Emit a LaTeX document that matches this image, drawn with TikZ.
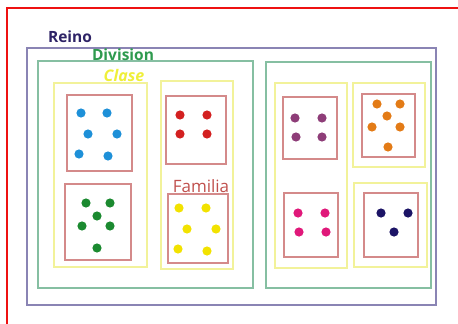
\documentclass[tikz,border=0pt]{standalone}
\usepackage{fontspec}
\setsansfont{Open Sans}
\usetikzlibrary{positioning}
\definecolor{cframe}{HTML}{EE1111}
\definecolor{creino}{HTML}{8A84B4}
\definecolor{creinotxt}{HTML}{2E2366}
\definecolor{cdiv}{HTML}{86BFA2}
\definecolor{cdivtxt}{HTML}{2E9A4E}
\definecolor{cclase}{HTML}{F2F29A}
\definecolor{cclasetxt}{HTML}{EFEF3A}
\definecolor{cfam}{HTML}{D48A8A}
\definecolor{cfamtxt}{HTML}{C0504D}
\definecolor{cblue}{HTML}{1E90D8}
\definecolor{cred}{HTML}{D32020}
\definecolor{cgreen}{HTML}{1B8A30}
\definecolor{cyellow}{HTML}{F2E200}
\definecolor{cpurple}{HTML}{8E3D78}
\definecolor{corange}{HTML}{E37B16}
\definecolor{cpink}{HTML}{E0187A}
\definecolor{cnavy}{HTML}{1C1466}
\tikzset{
  every picture/.style={font=\sffamily, line width=1.3pt},
  reinobox/.style={draw=creino},
  divbox/.style={draw=cdiv},
  clasebox/.style={draw=cclase},
  fambox/.style={draw=cfam},
  rank/.style={font=\sffamily\bfseries\fontsize{15.5}{18}\selectfont, text=#1, inner sep=0pt},
  dot/.style={fill=#1},
}

\begin{document}
\begin{tikzpicture}[x=1pt, y=-1pt]
  \useasboundingbox (0,0) rectangle (458,324);
  \draw[cframe, line width=2pt] (7,324) -- (7,8) -- (458,8);
  % reino and divisiones
  \draw[reinobox] (27,48) rectangle (436,305);
  \draw[divbox] (38,61) rectangle (253,288);
  \draw[divbox] (266,62) rectangle (431,288);
  % clases
  \draw[clasebox] (54,83) rectangle (147,267);
  \draw[clasebox] (161,81) rectangle (233,269);
  \draw[clasebox] (275,83) rectangle (347,268);
  \draw[clasebox] (353,83) rectangle (425,167);
  \draw[clasebox] (354,183) rectangle (427,267);
  % familias
  \draw[fambox] (67,95) rectangle (132,171);
  \draw[fambox] (65,184) rectangle (131,260);
  \draw[fambox] (166,96) rectangle (226,164);
  \draw[fambox] (168,194) rectangle (228,263);
  \draw[fambox] (283,97) rectangle (337,159);
  \draw[fambox] (362,94) rectangle (415,157);
  \draw[fambox] (284,193) rectangle (338,257);
  \draw[fambox] (364,193) rectangle (418,257);
  % especies
  \foreach \p in {(81,113),(107,113),(88,134),(117,134),(79,154),(108,156)}
    \fill[dot=cblue] \p circle (4.6);
  \foreach \p in {(86,203),(110,203),(97,216),(82,226),(110,226),(97,248)}
    \fill[dot=cgreen] \p circle (4.6);
  \foreach \p in {(180,115),(207,115),(180,134),(207,134)}
    \fill[dot=cred] \p circle (4.6);
  \foreach \p in {(179,208),(206,208),(187,229),(216,229),(178,249),(207,251)}
    \fill[dot=cyellow] \p circle (4.6);
  \foreach \p in {(295,118),(322,118),(296,137),(322,137)}
    \fill[dot=cpurple] \p circle (4.6);
  \foreach \p in {(377,104),(400,104),(387,116),(372,127),(400,127),(388,147)}
    \fill[dot=corange] \p circle (4.6);
  \foreach \p in {(298,213),(325,213),(299,232),(326,232)}
    \fill[dot=cpink] \p circle (4.6);
  \foreach \p in {(381,213),(408,213),(394,232)}
    \fill[dot=cnavy] \p circle (4.6);
  % rotulos
  \node[rank=creinotxt] (reino) at (70,37) {Reino};
  \node[rank=cdivtxt] (division) at (123,55) {Division};
  \node[rank=cclasetxt, font=\sffamily\bfseries\itshape\fontsize{16}{18}\selectfont] (clase) at (124,75) {Clase};
  \node[rank=cfamtxt, font=\sffamily\fontsize{17}{20}\selectfont] (familia) at (201,186) {Familia};
\end{tikzpicture}
\end{document}
